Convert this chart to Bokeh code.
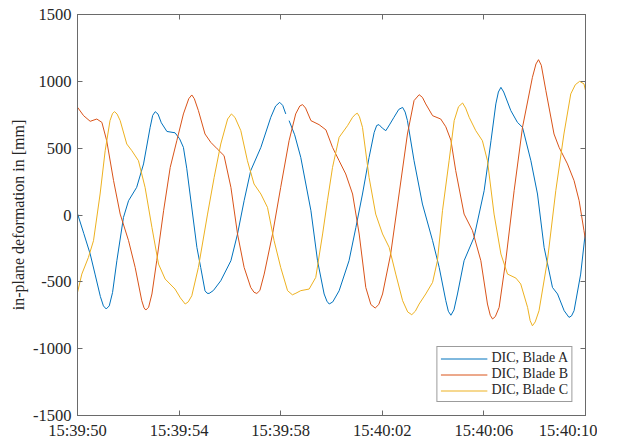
import pandas as pd
from bokeh.plotting import figure
from bokeh.models import (Range1d, FixedTicker, DatetimeTickFormatter, LinearAxis,
                          DatetimeAxis, Legend, LegendItem)
from bokeh.embed import file_html
from bokeh.resources import INLINE

nan = float("nan")
start_time = "2000-01-01 15:39:50"

# (seconds after 15:39:50, in-plane deformation [mm])
blade_a = [(0.00, 10), (0.25, -140), (0.50, -292), (0.69, -442), (0.90, -610), (1.02, -680),
           (1.13, -703), (1.25, -680), (1.38, -580), (1.55, -342), (1.81, -18), (2.01, 107),
           (2.33, 207), (2.60, 382), (2.86, 656), (2.96, 745), (3.06, 773), (3.17, 755),
           (3.30, 690), (3.52, 625), (3.84, 615), (4.02, 570), (4.17, 506), (4.30, 350),
           (4.43, 157), (4.70, -242), (4.85, -392), (5.02, -567), (5.10, -585), (5.18, -587),
           (5.35, -565), (5.64, -492), (6.04, -342), (6.30, -142), (6.56, 107), (6.82, 332),
           (7.22, 506), (7.61, 731), (7.80, 815), (7.96, 843), (8.08, 820), (8.20, 756),
           (8.26, nan), (8.33, 706), (8.55, 600), (8.79, 431), (9.19, 32), (9.45, -342),
           (9.71, -591), (9.82, -645), (9.91, -666), (10.05, -650), (10.30, -567),
           (10.69, -342), (10.96, -93), (11.22, 157), (11.48, 431), (11.68, 618),
           (11.78, 670), (11.87, 676), (12.00, 650), (12.14, 631), (12.30, 680),
           (12.46, 731), (12.65, 790), (12.80, 805), (12.90, 770), (12.99, 706),
           (13.25, 406), (13.58, 82), (13.98, -192), (14.24, -392), (14.50, -641),
           (14.60, -720), (14.70, -750), (14.82, -710), (14.96, -591), (15.22, -342),
           (15.61, -168), (16.01, 182), (16.28, 556), (16.47, 831), (16.57, 920),
           (16.67, 955), (16.78, 920), (17.06, 781), (17.32, 693), (17.52, 656),
           (17.85, 406), (18.11, 157), (18.37, -242), (18.70, -542), (18.90, -591),
           (19.16, -716), (19.35, -766), (19.45, -755), (19.55, -716), (19.81, -442),
           (20.00, -120)]

blade_b = [(0.00, 806), (0.24, 743), (0.50, 701), (0.76, 718), (0.96, 693), (1.15, 556),
           (1.42, 257), (1.68, 7), (2.01, -192), (2.27, -392), (2.53, -641), (2.62, -695),
           (2.69, -711), (2.80, -690), (2.93, -591), (3.12, -342), (3.39, 32), (3.65, 356),
           (3.91, 556), (4.17, 756), (4.38, 870), (4.50, 898), (4.60, 870), (4.76, 781),
           (5.02, 606), (5.25, 543), (5.50, 495), (5.77, 444), (6.04, 207), (6.30, -142),
           (6.56, -392), (6.82, -542), (6.95, -578), (7.06, -587), (7.18, -565), (7.35, -442),
           (7.68, -142), (8.00, 207), (8.33, 556), (8.59, 756), (8.75, 815), (8.86, 826),
           (8.98, 800), (9.19, 706), (9.51, 676), (9.78, 637), (10.04, 506), (10.30, 406),
           (10.56, 307), (10.83, 157), (11.09, -142), (11.35, -542), (11.55, -670),
           (11.72, -696), (11.86, -670), (12.01, -591), (12.33, -292), (12.66, 157),
           (12.99, 606), (13.25, 856), (13.45, 900), (13.58, 880), (13.71, 831),
           (13.98, 743), (14.30, 718), (14.50, 660), (14.70, 560), (14.89, 332), (15.22, 7),
           (15.55, -117), (15.88, -342), (16.14, -666), (16.25, -750), (16.34, -778),
           (16.45, -760), (16.60, -691), (16.86, -342), (17.19, 182), (17.52, 656),
           (17.91, 1030), (18.05, 1130), (18.15, 1162), (18.26, 1120), (18.44, 930),
           (18.76, 606), (18.96, 506), (19.29, 382), (19.55, 257), (19.75, 107),
           (19.94, -117), (20.00, -190)]

blade_c = [(0.00, -579), (0.17, -442), (0.43, -317), (0.63, -192), (0.89, 157), (1.09, 481),
           (1.28, 706), (1.38, 760), (1.46, 773), (1.56, 755), (1.68, 706), (1.94, 531),
           (2.14, 481), (2.40, 406), (2.66, 207), (2.93, -93), (3.19, -367), (3.45, -479),
           (3.84, -554), (4.05, -620), (4.24, -666), (4.36, -650), (4.50, -604), (4.76, -392),
           (4.85, -292), (5.12, 7), (5.38, 281), (5.64, 531), (5.91, 718), (6.06, 756),
           (6.20, 730), (6.43, 631), (6.69, 406), (6.95, 232), (7.22, 157), (7.48, 57),
           (7.74, -192), (8.00, -392), (8.27, -566), (8.46, -597), (8.60, -585), (8.79, -566),
           (9.12, -554), (9.38, -467), (9.65, -142), (9.84, 107), (10.04, 356), (10.30, 581),
           (10.63, 668), (10.83, 731), (10.95, 755), (11.02, 761), (11.10, 735), (11.22, 656),
           (11.48, 281), (11.74, 7), (12.01, -142), (12.27, -242), (12.53, -442),
           (12.80, -641), (13.00, -725), (13.16, -746), (13.30, -720), (13.45, -666),
           (13.71, -591), (13.98, -504), (14.17, -342), (14.37, 32), (14.63, 406),
           (14.83, 706), (15.00, 810), (15.16, 838), (15.28, 800), (15.42, 731),
           (15.68, 631), (15.94, 556), (16.14, 406), (16.40, 7), (16.67, -292),
           (16.93, -442), (17.26, -472), (17.45, -516), (17.72, -691), (17.82, -790),
           (17.91, -829), (18.02, -800), (18.17, -716), (18.50, -342), (18.83, 182),
           (19.15, 606), (19.42, 906), (19.60, 975), (19.77, 1000), (19.94, 981),
           (20.00, 931)]

x_ticks_s = [0, 4, 8, 12, 16, 20]
y_ticks = [-1500, -1000, -500, 0, 500, 1000, 1500]
names = ["DIC, Blade A", "DIC, Blade B", "DIC, Blade C"]
colors = ["#0072BD", "#D95319", "#EDB120"]

t0 = pd.Timestamp(start_time)

def to_ms(s):
    return (t0 + pd.Timedelta(seconds=s)).value / 1e6

FONT = "Liberation Serif"
AX = "#6a6a6a"
TXT = "#262626"

p = figure(frame_width=508, frame_height=401, output_backend="svg", toolbar_location=None,
           x_axis_type="datetime",
           x_range=Range1d(to_ms(0), to_ms(20)), y_range=Range1d(-1500, 1500),
           min_border_left=77, min_border_right=12, min_border_top=14, min_border_bottom=24)
p.grid.visible = False
p.outline_line_color = AX
p.background_fill_color = "white"

items = []
for series, name, c in zip([blade_a, blade_b, blade_c], names, colors):
    xs = [t0 + pd.Timedelta(seconds=s) for s, _ in series]
    ys = [v for _, v in series]
    r = p.line(xs, ys, line_color=c, line_width=1.0)
    items.append(LegendItem(label=name, renderers=[r]))

x_tick_ms = [to_ms(s) for s in x_ticks_s]
fmt = DatetimeTickFormatter(milliseconds="%H:%M:%S", seconds="%H:%M:%S", minsec="%H:%M:%S",
                            minutes="%H:%M:%S", hourmin="%H:%M:%S", hours="%H:%M:%S")

def style(ax):
    ax.axis_line_color = AX
    ax.major_tick_line_color = AX
    ax.major_tick_in = 5
    ax.major_tick_out = 0
    ax.minor_tick_line_color = None
    ax.major_label_text_font = FONT
    ax.major_label_text_color = TXT
    ax.major_label_text_font_size = "16.5px"
    ax.major_label_standoff = 5

xa = p.xaxis[0]
xa.ticker = FixedTicker(ticks=x_tick_ms)
xa.formatter = fmt
style(xa)
ya = p.yaxis[0]
ya.ticker = FixedTicker(ticks=y_ticks)
ya.major_label_overrides = {v: str(v) for v in y_ticks}
style(ya)
ya.major_label_standoff = 6
ya.axis_label = "in-plane deformation in [mm]"
ya.axis_label_text_font = FONT
ya.axis_label_text_font_style = "normal"
ya.axis_label_text_font_size = "16px"
ya.axis_label_text_color = TXT
ya.axis_label_standoff = 3

ra = LinearAxis(ticker=FixedTicker(ticks=y_ticks))
style(ra)
ra.major_label_overrides = {v: "" for v in y_ticks}
ra.major_label_standoff = 0
p.add_layout(ra, "right")
ta = DatetimeAxis(ticker=FixedTicker(ticks=x_tick_ms), formatter=fmt)
style(ta)
ta.major_label_overrides = {v: "" for v in x_tick_ms}
ta.major_label_standoff = 0
p.add_layout(ta, "above")

legend = Legend(items=items, location="bottom_right")
legend.label_text_font = FONT
legend.label_text_font_size = "14px"
legend.label_text_color = TXT
legend.label_height = 15
legend.label_standoff = 4
legend.glyph_width = 47
legend.glyph_height = 15
legend.spacing = 0
legend.padding = 3
legend.margin = 13
legend.border_line_color = "#3a3a3a"
legend.border_line_width = 1
legend.background_fill_alpha = 1
p.add_layout(legend)

open("out.html", "w").write(file_html(p, INLINE))
